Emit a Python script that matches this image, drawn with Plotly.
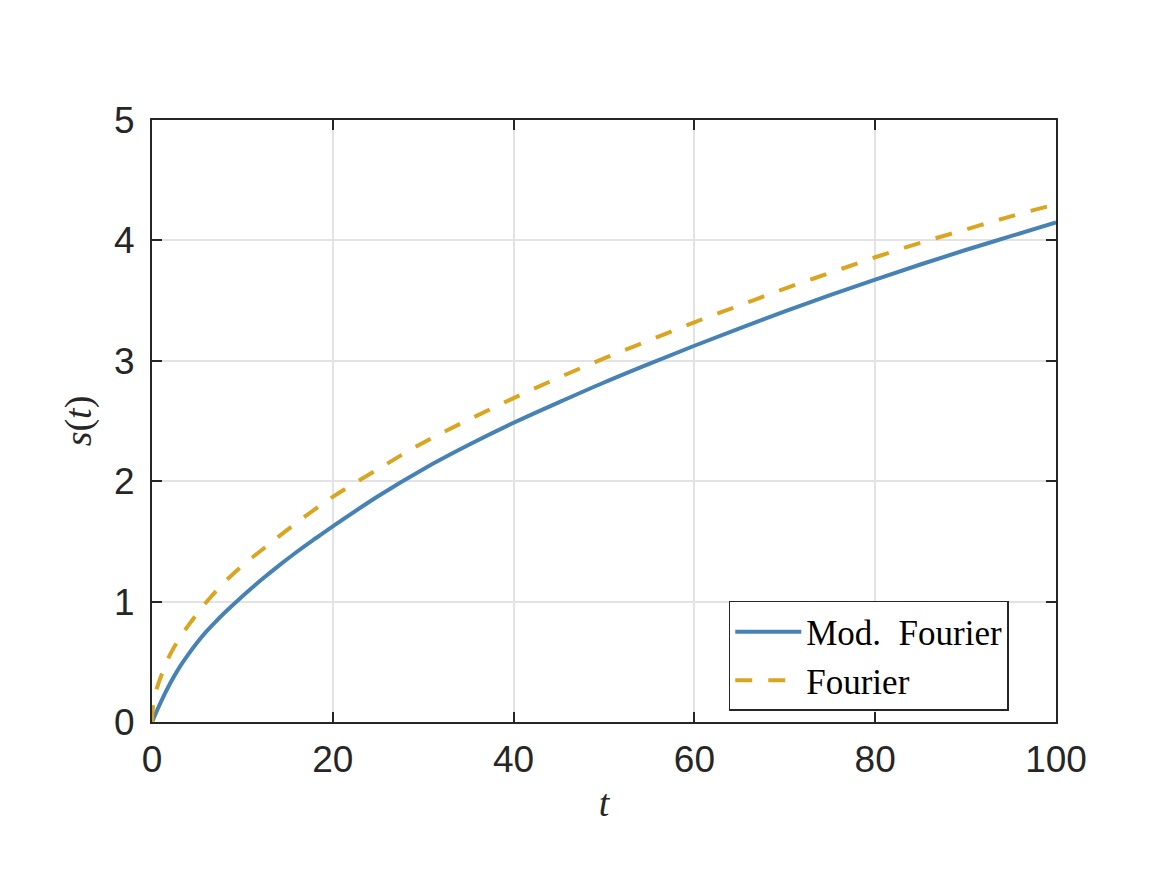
import plotly.graph_objects as go

# Mod. Fourier (solid blue) values
t_mod = [0, 1, 2, 3, 4, 5, 6, 7, 8, 10, 12, 14, 16, 18, 20, 25, 30, 35, 40, 45, 50,
         55, 60, 65, 70, 75, 80, 85, 90, 95, 100]
s_mod = [0, 0.17, 0.32, 0.45, 0.56, 0.66, 0.75, 0.83, 0.905, 1.045, 1.175, 1.297, 1.412,
         1.52, 1.625, 1.875, 2.10, 2.30, 2.485, 2.655, 2.82, 2.975, 3.125, 3.27, 3.41,
         3.545, 3.675, 3.80, 3.92, 4.035, 4.15]

# Fourier (dashed orange) values
t_fou = [0, 0.05, 0.2, 0.5, 1, 2, 3, 4, 5, 6, 8, 10, 12, 14, 16, 18, 20, 25, 30, 35, 40,
         45, 50, 55, 60, 65, 70, 75, 80, 85, 90, 95, 100]
s_fou = [0, 0.08, 0.17, 0.27, 0.38, 0.56, 0.69, 0.80, 0.90, 0.995, 1.16, 1.30, 1.42, 1.54,
         1.655, 1.765, 1.87, 2.10, 2.32, 2.51, 2.69, 2.86, 3.02, 3.17, 3.32, 3.46, 3.60,
         3.73, 3.86, 3.98, 4.09, 4.20, 4.30]

x_ticks = [0, 20, 40, 60, 80, 100]
y_ticks = [0, 1, 2, 3, 4, 5]

fig = go.Figure()
fig.add_trace(go.Scatter(x=t_mod, y=s_mod, mode="lines", name="Mod.  Fourier",
                         line=dict(color="#4682B4", width=4, shape="spline", smoothing=1.0)))
fig.add_trace(go.Scatter(x=t_fou, y=s_fou, mode="lines", name="Fourier",
                         line=dict(color="#DAA520", width=4, dash="17px,16px",
                                   shape="spline", smoothing=1.0)))

axis_common = dict(
    showline=True, linecolor="#262626", linewidth=2, mirror="ticks",
    ticks="inside", ticklen=10, tickwidth=2, tickcolor="#262626",
    showgrid=True, gridcolor="#e3e3e3", gridwidth=2, zeroline=False,
    tickfont=dict(family="Liberation Sans, Arial, sans-serif", size=37, color="#262626"),
)

fig.update_xaxes(range=[0, 100], tickvals=x_ticks, ticktext=[str(v) for v in x_ticks],
                 title=dict(text="<i>t</i>", font=dict(family="Liberation Serif, serif", size=38,
                                                        color="#262626"), standoff=10),
                 ticklabelstandoff=4, **axis_common)
fig.update_yaxes(range=[0, 5], tickvals=y_ticks, ticktext=[str(v) for v in y_ticks],
                 title=dict(text="<i>s</i>(<i>t</i>)", font=dict(family="Liberation Serif, serif",
                                                                  size=38, color="#262626"),
                            standoff=11),
                 ticklabelstandoff=8, **axis_common)

fig.update_layout(
    width=1167, height=875,
    margin=dict(l=152, r=111, t=120, b=153),
    paper_bgcolor="white", plot_bgcolor="white",
    showlegend=True,
    legend=dict(x=0.638, y=0.201, xanchor="left", yanchor="top",
                bgcolor="white", bordercolor="#262626", borderwidth=1.5,
                font=dict(family="Liberation Serif, serif", size=35, color="black"),
                itemwidth=66, tracegroupgap=0),
)

fig.write_html("out.html")
